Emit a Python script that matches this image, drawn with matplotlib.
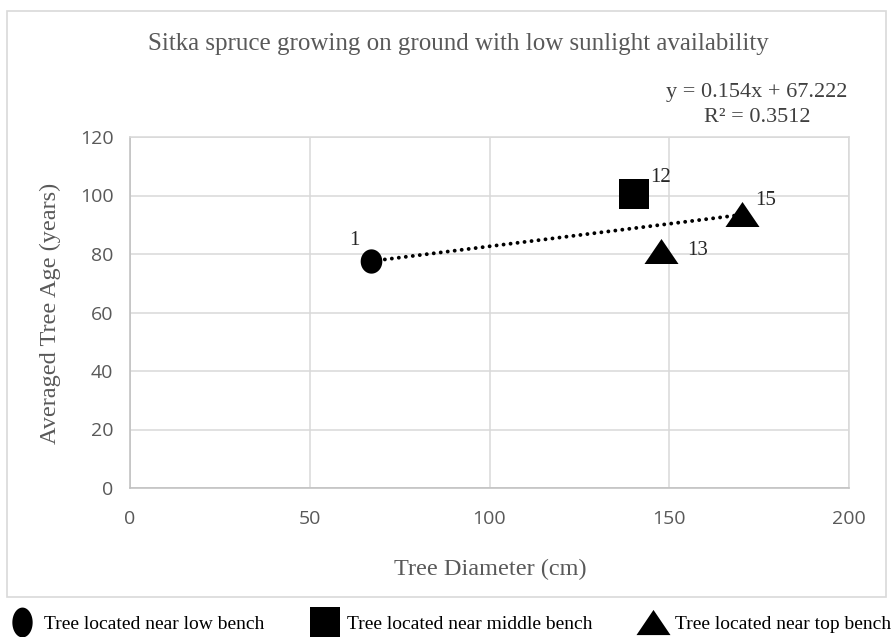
import numpy as np
import matplotlib.pyplot as plt
from matplotlib.path import Path
from matplotlib.lines import Line2D
from matplotlib.patches import Rectangle

# Sitka spruce trees on low-sunlight ground
TREE_IDS = ["1", "12", "13", "15"]
DIAMETER_CM = [67.0, 140.2, 147.8, 170.3]
AGE_YEARS = [77.6, 100.6, 81.1, 93.7]
BENCH = ["low", "middle", "top", "top"]

# linear trend reported for the group
TREND_SLOPE = 0.154
TREND_INTERCEPT = 67.222
TREND_R2 = 0.3512

X_TICKS = [0, 50, 100, 150, 200]
Y_TICKS = [0, 20, 40, 60, 80, 100, 120]

BENCH_ORDER = ["low", "middle", "top"]
BENCH_LABELS = {
    "low": "Tree located near low bench",
    "middle": "Tree located near middle bench",
    "top": "Tree located near top bench",
}

# label offsets in points, per tree
LABEL_OFFSETS = {"1": (-12, 15), "12": (19, 12), "13": (26, 0.5), "15": (16.5, 10)}

SERIF = "Liberation Serif"
SANS = "Open Sans"
GREY = "#595959"
GRID = "#D9D9D9"

W, H = 893, 637


def ellipse_marker(ratio):
    t = np.linspace(0, 2 * np.pi, 72)
    verts = np.column_stack([0.5 * ratio * np.cos(t), 0.5 * np.sin(t)])
    return Path(verts, closed=True)


def flat_triangle(ratio):
    h = 0.5 * ratio
    return Path([(0, h), (-0.5, -h), (0.5, -h), (0, h)], closed=True)


MARKERS = {
    "low": dict(marker=ellipse_marker(0.89), markersize=17.5),
    "middle": dict(marker="s", markersize=20.9),
    "top": dict(marker=flat_triangle(0.735), markersize=24.5),
}
LEGEND_MARKERS = {
    "low": dict(marker=ellipse_marker(0.68), markersize=21.5),
    "middle": dict(marker="s", markersize=21.5),
    "top": dict(marker=flat_triangle(0.74), markersize=24.5),
}


def fx(px):
    return px / W


def fy(py):
    return 1 - py / H


fig = plt.figure(figsize=(W / 100, H / 100), dpi=100)
ax = fig.add_axes([fx(130), fy(488), fx(849) - fx(130), fy(137) - fy(488)])

# outer chart frame
fig.patches.append(Rectangle((fx(7), fy(597)), fx(886) - fx(7), fy(11) - fy(597),
                             transform=fig.transFigure, fill=False,
                             edgecolor=GRID, linewidth=1.2))

diam = np.array(DIAMETER_CM)
age = np.array(AGE_YEARS)
bench = np.array(BENCH)

for b in BENCH_ORDER:
    sel = bench == b
    ax.plot(diam[sel], age[sel], linestyle="none", color="black",
            markeredgewidth=0, zorder=4, **MARKERS[b])

xt = np.array([diam.min(), diam.max()])
ax.plot(xt, TREND_SLOPE * xt + TREND_INTERCEPT, color="black", linewidth=2.8,
        linestyle=(0, (0.01, 1.8)), dash_capstyle="round", zorder=3)

for tid, x, y in zip(TREE_IDS, DIAMETER_CM, AGE_YEARS):
    ax.annotate(tid, (x, y), xytext=LABEL_OFFSETS[tid], textcoords="offset points",
                ha="center", va="center", fontsize=15, family=SERIF, color="#262626")

ax.set_xlim(X_TICKS[0], X_TICKS[-1])
ax.set_ylim(Y_TICKS[0], Y_TICKS[-1])
ax.set_xticks(X_TICKS)
ax.set_yticks(Y_TICKS)
ax.grid(True, color=GRID, linewidth=1.1)
ax.set_axisbelow(True)
for side in ax.spines.values():
    side.set_color(GRID)
    side.set_linewidth(1.1)
ax.spines["left"].set_color("#BFBFBF")
ax.spines["bottom"].set_color("#BFBFBF")
ax.tick_params(axis="both", length=0, labelsize=14, labelcolor=GREY)
ax.tick_params(axis="x", pad=16)
ax.tick_params(axis="y", pad=12)
for lab in ax.get_xticklabels() + ax.get_yticklabels():
    lab.set_family(SANS)

fig.text(fx(458), fy(44), "Sitka spruce growing on ground with low sunlight availability",
         ha="center", va="center", fontsize=18, family=SERIF, color=GREY)
fig.text(fx(50), fy(313), "Averaged Tree Age (years)", rotation=90,
         ha="center", va="center", fontsize=17.5, family=SERIF, color=GREY)
fig.text(fx(490), fy(569), "Tree Diameter (cm)",
         ha="center", va="center", fontsize=17.5, family=SERIF, color=GREY)

fig.text(fx(757), fy(93), f"y = {TREND_SLOPE}x + {TREND_INTERCEPT}",
         ha="center", va="center", fontsize=16, family=SERIF, color="#404040")
fig.text(fx(757), fy(118), f"R² = {TREND_R2}",
         ha="center", va="center", fontsize=16, family=SERIF, color="#404040")

handles = [Line2D([], [], linestyle="none", color="black", markeredgewidth=0,
                  label=BENCH_LABELS[b], **LEGEND_MARKERS[b]) for b in BENCH_ORDER]
fig.legend(handles=handles, loc="center left", bbox_to_anchor=(fx(10), fy(624)),
           ncol=3, frameon=False, borderpad=0, borderaxespad=0,
           handlelength=1.2, handletextpad=0.55, columnspacing=2.5,
           prop={"family": SERIF, "size": 14})

fig.savefig("out.png", dpi=100)
